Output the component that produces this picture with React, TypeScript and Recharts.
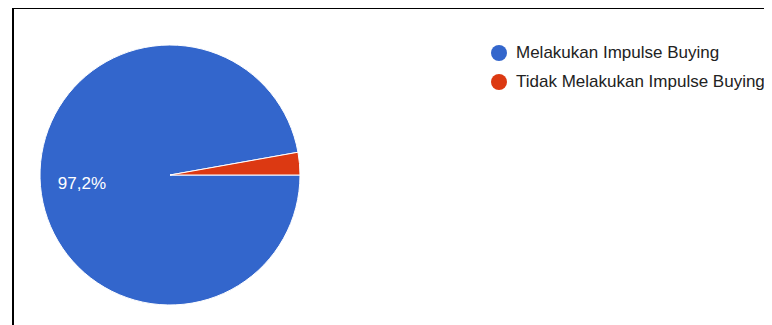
import { PieChart, Pie, Cell } from "recharts"

const categories = ["Melakukan Impulse Buying", "Tidak Melakukan Impulse Buying"]
const shares = [97.2, 2.8]
const colors = ["#3366CC", "#DC3912"]

const data = categories.map((name, i) => ({ name, value: shares[i] }))

const RADIAN = Math.PI / 180

// only the big slice gets a label, like in the original
const renderLabel = ({ cx, cy, midAngle, outerRadius, percent }: any) => {
  if (percent < 0.05) return null
  const r = outerRadius * 0.68
  const x = cx + r * Math.cos(-midAngle * RADIAN)
  const y = cy + r * Math.sin(-midAngle * RADIAN)
  return (
    <text
      x={x}
      y={y + 1}
      fill="#ffffff"
      textAnchor="middle"
      dominantBaseline="central"
      fontSize={17}
      fontFamily="'Liberation Sans', Arial, sans-serif"
    >
      {(percent * 100).toFixed(1).replace(".", ",")}%
    </text>
  )
}

// legend drawn as plain html so it doesn't shift the pie
function ChartLegend() {
  return (
    <div style={{ position: "absolute", left: 491, top: 38 }}>
      {categories.map((name, i) => (
        <div
          key={name}
          style={{ display: "flex", alignItems: "center", height: 29 }}
        >
          <span
            style={{
              width: 16,
              height: 16,
              borderRadius: "50%",
              background: colors[i],
              marginRight: 9,
              flex: "none",
            }}
          />
          <span style={{ fontSize: 17, color: "#222222", whiteSpace: "nowrap" }}>
            {name}
          </span>
        </div>
      ))}
    </div>
  )
}

export default function App() {
  return (
    <div
      style={{
        position: "relative",
        width: 772,
        height: 325,
        margin: "-8px 0 0 -8px",
        overflow: "hidden",
        background: "#ffffff",
        fontFamily: "'Liberation Sans', Arial, sans-serif",
      }}
    >
      <div
        style={{
          position: "absolute",
          left: 12,
          top: 7,
          width: 800,
          height: 400,
          border: "2px solid #000000",
          boxSizing: "border-box",
        }}
      />
      <div style={{ position: "absolute", left: 0, top: 0 }}>
        <PieChart width={772} height={325} margin={{ top: 0, right: 0, bottom: 0, left: 0 }}>
          <Pie
            data={data}
            dataKey="value"
            nameKey="name"
            cx={170}
            cy={175}
            outerRadius={130}
            startAngle={0}
            endAngle={-360}
            stroke="#ffffff"
            strokeWidth={1}
            label={renderLabel}
            labelLine={false}
            isAnimationActive={false}
          >
            {data.map((d, i) => (
              <Cell key={d.name} fill={colors[i]} />
            ))}
          </Pie>
        </PieChart>
      </div>
      <ChartLegend />
    </div>
  )
}
